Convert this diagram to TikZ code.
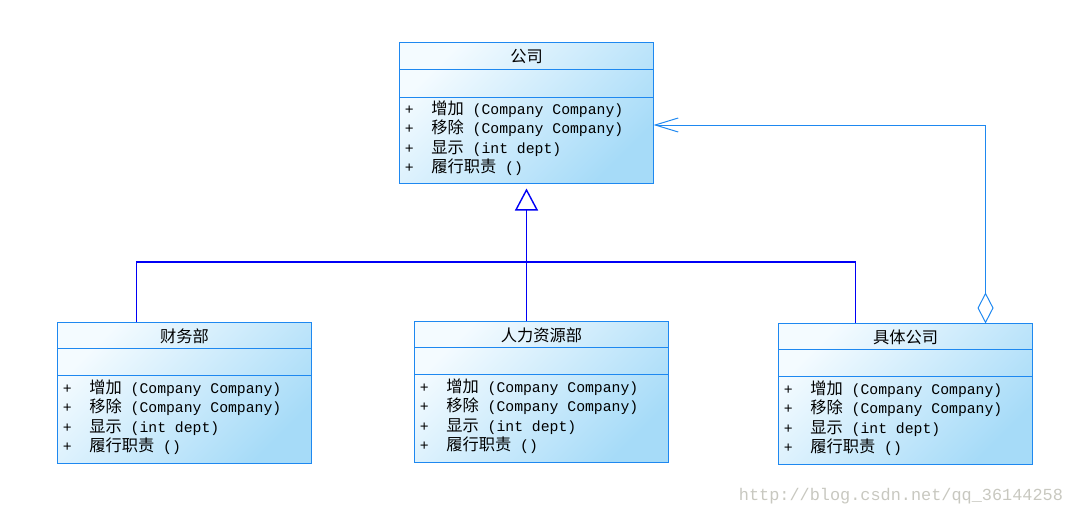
\documentclass[tikz,border=0pt]{standalone}
\usepackage{fontspec}
\setmonofont{Liberation Mono}
\newfontfamily\cjk[Scale=1.1]{Noto Sans CJK SC}
\usetikzlibrary{shapes.geometric, arrows.meta, positioning}
\definecolor{boxblue}{RGB}{30,136,240}
\definecolor{lightfill}{RGB}{244,251,255}
\definecolor{deepfill}{RGB}{166,219,248}
\definecolor{genblue}{RGB}{0,0,245}
\definecolor{markgray}{RGB}{200,200,192}
\newcommand{\zh}[1]{{\cjk #1}}
\newcommand{\ops}{+~~\zh{增加} (Company~Company)\\
+~~\zh{移除} (Company~Company)\\
+~~\zh{显示} (int~dept)\\
+~~\zh{履行职责} ()}
\tikzstyle{classbox} = [rectangle, 
minimum width=6.325cm, 
minimum height=3.5cm, 
draw=boxblue, line width=0.7pt,
top color=lightfill, bottom color=deepfill, 
shading angle=45]
\tikzstyle{classname} = [minimum height=0.675cm, 
inner sep=0pt, 
font=\cjk\fontsize{10.5}{12}\selectfont]
\tikzstyle{methods} = [align=left, 
inner sep=0pt, 
font=\ttfamily\fontsize{10.5}{13.8}\selectfont]
\tikzstyle{divider} = [draw=boxblue, line width=0.7pt]
\tikzstyle{genline} = [genblue, line width=1pt]
\tikzstyle{inherit} = [genline, -{Triangle[open, length=0.55cm, width=0.575cm]}]
\tikzstyle{aggr} = [boxblue, line width=0.7pt, 
{Diamond[open, length=0.775cm, width=0.4cm]}-{Straight Barb[length=0.575cm, width=0.35cm]}]

\begin{document}
\begin{tikzpicture}[x=0.025cm, y=-0.025cm]
\useasboundingbox (0,0) rectangle (1073,517);

% company (component)
\node (gs) [classbox] at (526.5,113) {};
\draw [divider] ([yshift=-0.675cm]gs.north west) -- ([yshift=-0.675cm]gs.north east);
\draw [divider] ([yshift=-1.375cm]gs.north west) -- ([yshift=-1.375cm]gs.north east);
\node (gsname) [classname, below=0pt of gs.north] {公司};
\node (gsops) [methods, below right=1.45cm and 0.125cm of gs.north west] {\ops};

% finance dept
\node (cw) [classbox] at (184.5,393) {};
\draw [divider] ([yshift=-0.65cm]cw.north west) -- ([yshift=-0.65cm]cw.north east);
\draw [divider] ([yshift=-1.325cm]cw.north west) -- ([yshift=-1.325cm]cw.north east);
\node (cwname) [classname, below=0pt of cw.north] {财务部};
\node (cwops) [methods, below right=1.425cm and 0.125cm of cw.north west] {\ops};

% hr dept
\node (rl) [classbox] at (541.5,392) {};
\draw [divider] ([yshift=-0.65cm]rl.north west) -- ([yshift=-0.65cm]rl.north east);
\draw [divider] ([yshift=-1.325cm]rl.north west) -- ([yshift=-1.325cm]rl.north east);
\node (rlname) [classname, below=0pt of rl.north] {人力资源部};
\node (rlops) [methods, below right=1.425cm and 0.125cm of rl.north west] {\ops};

% concrete company (composite)
\node (jt) [classbox] at (905.5,394) {};
\draw [divider] ([yshift=-0.65cm]jt.north west) -- ([yshift=-0.65cm]jt.north east);
\draw [divider] ([yshift=-1.325cm]jt.north west) -- ([yshift=-1.325cm]jt.north east);
\node (jtname) [classname, below=0pt of jt.north] {具体公司};
\node (jtops) [methods, below right=1.425cm and 0.125cm of jt.north west] {\ops};

% generalization
\coordinate (bus) at (528,262);
\draw [inherit] (gs.south |- rl.north) -- ([yshift=-0.125cm]gs.south);
\draw [genline] ([xshift=-1.2cm]cw.north) |- (bus) -| ([xshift=-1.25cm]jt.north);

% aggregation
\draw [aggr] ([xshift=2cm]jt.north) |- ([yshift=-0.3cm]gs.east);

\node (mark) [font=\ttfamily\fontsize{12}{12}\selectfont, text=markgray] at (901,496) {http://blog.csdn.net/qq\_36144258};

\end{tikzpicture}
\end{document}
